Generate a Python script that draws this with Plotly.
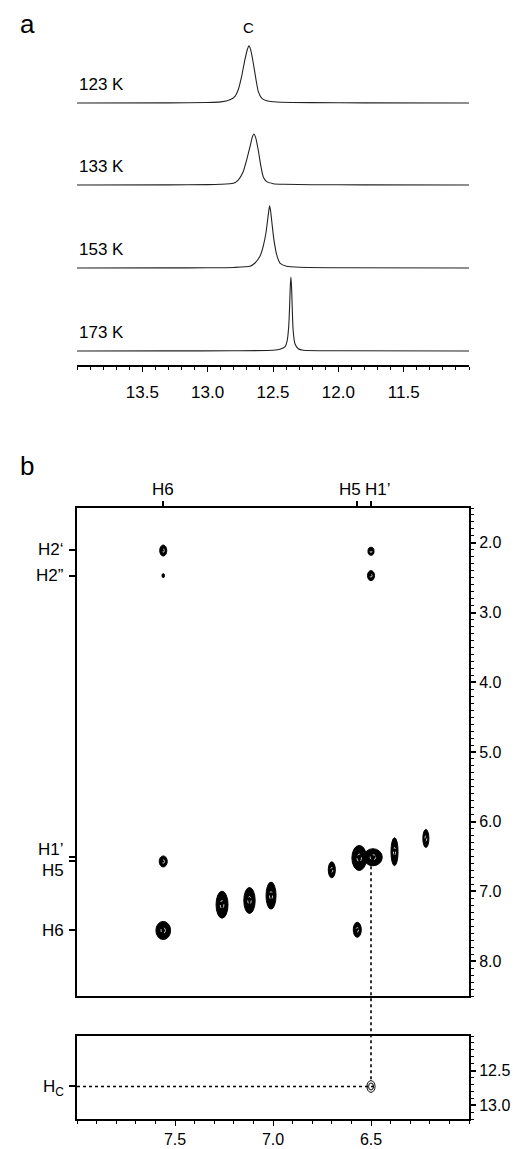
import plotly.graph_objects as go

W, H = 519, 1149
FONT = "Liberation Sans, Arial, sans-serif"

# ---------------- Panel a : 1D imino spectra (ppm, relative intensity) ----------------
temps = ["123 K", "133 K", "153 K", "173 K"]
spec_123_ppm = [14.0, 13.3, 13.0, 12.9, 12.829, 12.791, 12.766, 12.740, 12.715, 12.697, 12.684, 12.671,
                12.651, 12.630, 12.613, 12.587, 12.549, 12.472, 12.2, 11.8, 11.0]
spec_123_int = [0.0, 0.003, 0.008, 0.02, 0.058, 0.117, 0.232, 0.466, 0.756, 0.930, 1.0, 0.930,
                0.698, 0.407, 0.204, 0.087, 0.040, 0.017, 0.006, 0.003, 0.0]
spec_133_ppm = [14.0, 13.3, 13.0, 12.9, 12.804, 12.766, 12.728, 12.702, 12.676, 12.659, 12.646, 12.633,
                12.613, 12.592, 12.575, 12.549, 12.498, 12.422, 12.2, 11.8, 11.0]
spec_133_int = [0.0, 0.003, 0.006, 0.012, 0.030, 0.087, 0.232, 0.436, 0.668, 0.832, 0.890, 0.832,
                0.611, 0.319, 0.145, 0.058, 0.023, 0.012, 0.005, 0.002, 0.0]
spec_153_ppm = [14.0, 13.3, 13.0, 12.8, 12.676, 12.638, 12.600, 12.575, 12.554, 12.541, 12.533, 12.526,
                12.518, 12.508, 12.493, 12.472, 12.447, 12.396, 12.294, 12.0, 11.0]
spec_153_int = [0.0, 0.002, 0.004, 0.010, 0.030, 0.087, 0.204, 0.379, 0.611, 0.843, 0.990, 1.087,
                0.990, 0.785, 0.494, 0.232, 0.087, 0.030, 0.012, 0.004, 0.0]
spec_173_ppm = [14.0, 13.3, 12.8, 12.498, 12.447, 12.409, 12.391, 12.380, 12.373, 12.368, 12.363,
                12.358, 12.353, 12.346, 12.332, 12.307, 12.269, 12.0, 11.0]
spec_173_int = [0.0, 0.002, 0.004, 0.012, 0.030, 0.070, 0.187, 0.419, 0.768, 1.117, 1.291,
                1.117, 0.768, 0.361, 0.127, 0.040, 0.012, 0.004, 0.0]
imino_label = "C"
imino_ppm = 12.684
a_ticks = [13.5, 13.0, 12.5, 12.0, 11.5]

# ---------------- Panel b : NOESY cross peaks (F2 ppm, F1 ppm, linewidths ppm) ----------------
noesy_f2 = [7.56, 7.56, 6.50, 6.50, 7.56, 7.56, 6.57, 7.26, 7.12, 7.01, 6.70, 6.56, 6.49, 6.38, 6.22]
noesy_f1 = [2.11, 2.47, 2.12, 2.47, 6.57, 7.56, 7.55, 7.19, 7.13, 7.06, 6.69, 6.52, 6.51, 6.43, 6.24]
noesy_wf2 = [0.036, 0.013, 0.031, 0.036, 0.041, 0.075, 0.041, 0.061, 0.058, 0.051, 0.036, 0.075, 0.095, 0.036, 0.031]
noesy_wf1 = [0.158, 0.057, 0.115, 0.143, 0.158, 0.260, 0.215, 0.387, 0.372, 0.387, 0.229, 0.360, 0.245, 0.400, 0.258]

hc_f2, hc_f1, hc_wf2, hc_wf1 = 6.50, 12.73, 0.041, 0.17

top_labels = ["H6", "H5", "H1’"]
top_ppm = [7.56, 6.57, 6.50]
left_labels = ["H2‘", "H2”", "H1’", "H5", "H6"]
left_ppm = [2.10, 2.47, 6.50, 6.57, 7.56]
right_ticks = [2.0, 3.0, 4.0, 5.0, 6.0, 7.0, 8.0]
bottom_ticks = [7.5, 7.0, 6.5]
low_right_ticks = [12.5, 13.0]

# ---------------- layout geometry (pixels -> paper) ----------------
def fx(px):
    return px / W

def fy(py):
    return 1 - py / H

XDOM = [fx(77), fx(469)]
A_YDOM = [fy(365), fy(35)]
A_YR = [0, 330]
A_OFFS = [262, 180, 97, 14]
A_SCALE = 57.3
B_YDOM = [fy(996), fy(508)]
B_YR = [8.5, 1.5]
L_YDOM = [fy(1119), fy(1036)]
L_YR = [13.2, 12.0]
XR_B = [8.0, 6.0]


def map_y(v, dom, rng):
    return dom[0] + (v - rng[0]) / (rng[1] - rng[0]) * (dom[1] - dom[0])


fig = go.Figure()

specs = [(spec_123_ppm, spec_123_int), (spec_133_ppm, spec_133_int),
         (spec_153_ppm, spec_153_int), (spec_173_ppm, spec_173_int)]
for (xs, ys), off, lab in zip(specs, A_OFFS, temps):
    fig.add_trace(go.Scatter(x=xs, y=[off + A_SCALE * v for v in ys], mode="lines",
                             line=dict(color="#222222", width=1.1, shape="spline", smoothing=0.5),
                             xaxis="x", yaxis="y", showlegend=False, hoverinfo="skip"))

# invisible anchor traces for panel b axes
fig.add_trace(go.Scatter(x=[7.0], y=[5.0], mode="markers", marker=dict(opacity=0),
                         xaxis="x2", yaxis="y2", showlegend=False, hoverinfo="skip"))
fig.add_trace(go.Scatter(x=[7.0], y=[12.5], mode="markers", marker=dict(opacity=0),
                         xaxis="x3", yaxis="y3", showlegend=False, hoverinfo="skip"))
fig.add_trace(go.Scatter(x=[7.0], y=[5.0], mode="markers", marker=dict(opacity=0),
                         xaxis="x2", yaxis="y4", showlegend=False, hoverinfo="skip"))
fig.add_trace(go.Scatter(x=[7.0], y=[12.5], mode="markers", marker=dict(opacity=0),
                         xaxis="x3", yaxis="y5", showlegend=False, hoverinfo="skip"))

shapes = []
for x, y, wx, wy in zip(noesy_f2, noesy_f1, noesy_wf2, noesy_wf1):
    shapes.append(dict(type="circle", xref="x2", yref="y2",
                       x0=x - wx / 2, x1=x + wx / 2, y0=y - wy / 2, y1=y + wy / 2,
                       fillcolor="black", line=dict(color="black", width=1)))
    if wx > 0.02:
        k = 0.3
        shapes.append(dict(type="circle", xref="x2", yref="y2",
                           x0=x - k * wx / 2, x1=x + k * wx / 2, y0=y - k * wy / 2, y1=y + k * wy / 2,
                           fillcolor="rgba(0,0,0,0)", line=dict(color="white", width=0.8, dash="dot")))

for k in [1.0, 0.6]:
    shapes.append(dict(type="circle", xref="x3", yref="y3",
                       x0=hc_f2 - k * hc_wf2 / 2, x1=hc_f2 + k * hc_wf2 / 2,
                       y0=hc_f1 - k * hc_wf1 / 2, y1=hc_f1 + k * hc_wf1 / 2,
                       fillcolor="rgba(0,0,0,0)", line=dict(color="black", width=1)))

# dotted connector lines
shapes.append(dict(type="line", xref="x3", yref="y3", x0=XR_B[0], x1=hc_f2 - hc_wf2 / 2,
                   y0=hc_f1, y1=hc_f1, line=dict(color="black", width=1.6, dash="dot")))
shapes.append(dict(type="line", xref="x2", yref="paper", x0=hc_f2, x1=hc_f2,
                   y0=map_y(6.64, B_YDOM, B_YR), y1=map_y(hc_f1 - hc_wf1 / 2, L_YDOM, L_YR),
                   line=dict(color="black", width=1.6, dash="dot")))

ann = []
for off, lab in zip(A_OFFS, temps):
    ann.append(dict(x=fx(77), xref="paper", y=off + 18, yref="y", text=lab, showarrow=False,
                    xanchor="left", yanchor="middle", font=dict(size=17)))
ann.append(dict(x=imino_ppm, xref="x", y=fy(28), yref="paper", text=imino_label, showarrow=False,
                xanchor="center", yanchor="middle", font=dict(size=15)))
ann.append(dict(x=fx(18), xref="paper", y=fy(24), yref="paper", text="a", showarrow=False,
                xanchor="left", yanchor="middle", font=dict(size=26)))
ann.append(dict(x=fx(18), xref="paper", y=fy(466), yref="paper", text="b", showarrow=False,
                xanchor="left", yanchor="middle", font=dict(size=26)))
top_shift = [0, -7, 7]
for lab, v, s in zip(top_labels, top_ppm, top_shift):
    ann.append(dict(x=v, xref="x2", y=fy(489), yref="paper", text=lab, showarrow=False,
                    xanchor="center", yanchor="middle", xshift=s, font=dict(size=17)))
left_shift = [0, 0, 7, -9, 0]
for lab, v, s in zip(left_labels, left_ppm, left_shift):
    ann.append(dict(x=fx(66), xref="paper", y=v, yref="y2", text=lab, showarrow=False,
                    xanchor="right", yanchor="middle", yshift=s, font=dict(size=17)))
ann.append(dict(x=fx(66), xref="paper", y=hc_f1, yref="y5", text="H<sub>C</sub>", showarrow=False,
                xanchor="right", yanchor="middle", yshift=-2, font=dict(size=17)))

AX = dict(showgrid=False, zeroline=False, color="black", linecolor="black", tickcolor="black",
          automargin=False)
MINOR = dict(ticks="outside", ticklen=3, tickwidth=1.2, tickcolor="black", dtick=0.1, tick0=0, showgrid=False)

fig.update_layout(
    width=W, height=H, margin=dict(l=0, r=0, t=0, b=0, autoexpand=False),
    paper_bgcolor="white", plot_bgcolor="white",
    font=dict(family=FONT, color="black", size=16),
    showlegend=False, shapes=shapes, annotations=ann,
    xaxis=dict(**AX, domain=XDOM, range=[14.0, 11.0], anchor="y", showline=True, linewidth=2,
               ticks="outside", ticklen=5, tickwidth=1.4, tickmode="array", tickvals=a_ticks,
               ticktext=[f"{v:.1f}" for v in a_ticks], tickfont=dict(size=17),
               ticklabelstandoff=6, minor=MINOR),
    yaxis=dict(domain=A_YDOM, range=A_YR, visible=False, anchor="x", automargin=False),
    xaxis2=dict(**AX, domain=XDOM, range=XR_B, anchor="y2", side="top", showline=True, mirror=True,
                linewidth=2, ticks="outside", ticklen=5, tickwidth=1.5, tickmode="array",
                tickvals=top_ppm, showticklabels=False),
    yaxis2=dict(**AX, domain=B_YDOM, range=B_YR, anchor="x2", side="right", showline=True, mirror=True,
                linewidth=2, ticks="outside", ticklen=5, tickwidth=1.5, tickmode="array",
                tickvals=right_ticks, ticktext=[f"{v:.1f}" for v in right_ticks], tickfont=dict(size=16),
                ticklabelstandoff=0, minor=MINOR),
    yaxis4=dict(**AX, domain=B_YDOM, range=B_YR, overlaying="y2", anchor="x2", side="left",
                showline=False, ticks="outside", ticklen=7, tickwidth=1.5, tickmode="array",
                tickvals=left_ppm, showticklabels=False),
    xaxis3=dict(**AX, domain=XDOM, range=XR_B, anchor="y3", side="bottom", showline=True, mirror=True,
                linewidth=2, ticks="outside", ticklen=5, tickwidth=1.4, tickmode="array",
                tickvals=bottom_ticks, ticktext=[f"{v:.1f}" for v in bottom_ticks], tickfont=dict(size=16),
                ticklabelstandoff=0, minor=MINOR),
    yaxis3=dict(**AX, domain=L_YDOM, range=L_YR, anchor="x3", side="right", showline=True, mirror=True,
                linewidth=2, ticks="outside", ticklen=5, tickwidth=1.5, tickmode="array",
                tickvals=low_right_ticks, ticktext=[f"{v:.1f}" for v in low_right_ticks],
                tickfont=dict(size=16), ticklabelstandoff=0, minor=MINOR),
    yaxis5=dict(**AX, domain=L_YDOM, range=L_YR, overlaying="y3", anchor="x3", side="left",
                showline=False, ticks="outside", ticklen=7, tickwidth=1.5, tickmode="array",
                tickvals=[hc_f1], showticklabels=False),
)

fig.write_html("out.html", config={"displayModeBar": False},
               post_script="document.body.style.margin='0';document.body.style.padding='0';"
                           "document.documentElement.style.overflow='hidden';")
